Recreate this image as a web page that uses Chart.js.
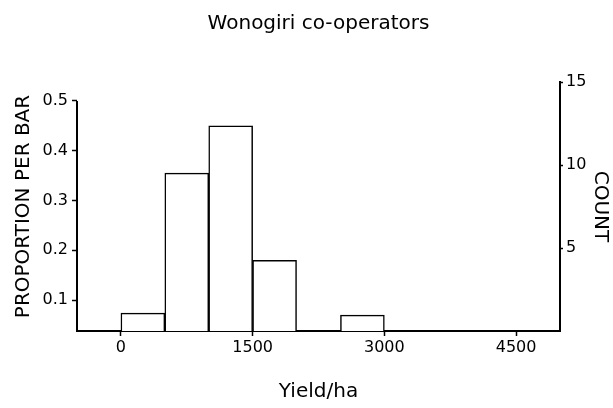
<!DOCTYPE html>
<html>
<head>
<meta charset="utf-8">
<script src="https://cdn.jsdelivr.net/npm/chart.js@4"></script>
<style>
  body { margin: 0; background: #fff; }
</style>
</head>
<body>
<canvas id="chart" width="613" height="408"></canvas>
<script>
// histogram bins (midpoints of 500-wide yield classes) and proportions
const binMids = [250, 750, 1250, 1750, 2750];
const proportions = [0.074, 0.355, 0.45, 0.18, 0.07];

// tick labels
const xTicks = [0, 1500, 3000, 4500];
const propTicks = [0.1, 0.2, 0.3, 0.4, 0.5];
const countTicks = [5, 10, 15];

const ink = '#000';
const family = '"DejaVu Sans", sans-serif';
const tickFont = { family: family, size: 16 };
const axisFont = { family: family, size: 20 };

// left axis line only runs up to the top proportion tick
const leftAxisLine = {
    id: 'leftAxisLine',
    afterDraw(c) {
        const y = c.scales.y;
        const ctx = c.ctx;
        ctx.save();
        ctx.strokeStyle = ink;
        ctx.lineWidth = 2;
        ctx.beginPath();
        ctx.moveTo(y.right, y.getPixelForValue(0.5));
        ctx.lineTo(y.right, c.chartArea.bottom + 1);
        ctx.stroke();
        ctx.restore();
    }
};

new Chart(document.querySelector('#chart').getContext('2d'), {
    type: 'bar',
    data: {
        datasets: [{
            data: binMids.map((x, i) => ({ x: x, y: proportions[i] })),
            backgroundColor: '#fff',
            borderColor: ink,
            borderWidth: 1.5,
            barPercentage: 1,
            categoryPercentage: 1,
            yAxisID: 'y'
        }]
    },
    options: {
        responsive: false,
        animation: false,
        layout: { padding: 0 },
        plugins: {
            legend: { display: false },
            tooltip: { enabled: false },
            title: {
                display: true,
                fullSize: false,
                text: 'Wonogiri co-operators',
                color: ink,
                font: { family: family, size: 20, weight: 'normal' },
                padding: { top: 12, bottom: 46 }
            }
        },
        scales: {
            x: {
                type: 'linear',
                offset: false,
                min: -500,
                max: 5000,
                afterBuildTicks: s => { s.ticks = xTicks.map(v => ({ value: v })); },
                afterFit: s => { s.height = 77; },
                ticks: { color: ink, font: tickFont, padding: 2, maxRotation: 0, callback: v => String(v) },
                grid: { offset: false, drawOnChartArea: false, tickLength: 5, color: ink, tickWidth: 1.5 },
                border: { color: ink, width: 2 },
                title: { display: true, text: 'Yield/ha', color: ink, font: axisFont, padding: { top: 0 } }
            },
            y: {
                position: 'left',
                min: 0.038,
                max: 0.538,
                afterBuildTicks: s => { s.ticks = propTicks.map(v => ({ value: v })); },
                afterFit: s => { s.width = 77; },
                ticks: { color: ink, font: tickFont, padding: 4, callback: v => v.toFixed(1) },
                grid: { drawOnChartArea: false, tickLength: 5, color: ink, tickWidth: 1.5 },
                border: { display: false },
                title: { display: true, text: 'PROPORTION PER BAR', color: ink, font: axisFont, padding: { top: 12 } }
            },
            y2: {
                position: 'right',
                min: 0,
                max: 15,
                afterBuildTicks: s => { s.ticks = countTicks.map(v => ({ value: v })); },
                afterFit: s => { s.width = 53; },
                ticks: { color: ink, font: tickFont, padding: 3 },
                grid: { drawOnChartArea: false, tickLength: 3, color: ink, tickWidth: 1.5 },
                border: { color: ink, width: 2 },
                title: { display: true, text: 'COUNT', color: ink, font: axisFont, padding: { top: 1 } }
            }
        }
    },
    plugins: [leftAxisLine]
});
</script>
</body>
</html>
